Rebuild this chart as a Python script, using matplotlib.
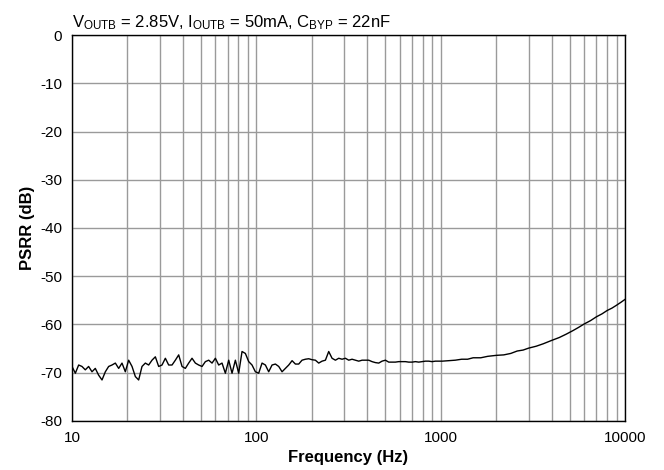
import numpy as np
import matplotlib
matplotlib.use("Agg")
import matplotlib.pyplot as plt
from matplotlib.ticker import FixedLocator, FixedFormatter, LogLocator, NullFormatter

plt.rcParams['font.family'] = ['Liberation Sans', 'DejaVu Sans']

# measured sweep, 10 Hz .. ~1 kHz (noisy region)
freq_lo = [10.0, 10.43, 10.87, 11.33, 11.81, 12.31, 12.84, 13.38, 13.95, 14.55,
           15.17, 15.81, 16.48, 17.19, 17.92, 18.68, 19.47, 20.30, 21.17, 22.07,
           23.00, 23.98, 25.00, 26.06, 27.17, 28.33, 29.53, 30.79, 32.10, 33.46,
           34.89, 36.37, 37.92, 39.54, 41.21, 42.96, 44.79, 46.70, 48.68, 50.76,
           52.91, 55.16, 57.51, 59.96, 62.50, 65.16, 67.93, 70.82, 73.83, 76.97,
           80.24, 83.65, 87.21, 90.92, 94.78, 98.81, 103.0, 107.4, 112.0, 116.7,
           121.7, 126.9, 132.3, 137.9, 143.8, 149.9, 156.3, 162.9, 169.8, 177.0,
           184.6, 192.4, 200.6, 209.1, 218.0, 227.3, 237.0, 247.0, 257.5, 268.5,
           279.9, 291.8, 304.2, 317.1, 330.6, 344.7, 359.3, 374.6, 390.5, 407.1,
           424.4, 442.5, 461.3, 480.9, 501.4, 522.7, 544.9, 568.1, 592.2, 617.4,
           643.7, 671.0, 699.6, 729.3, 760.3, 792.7, 826.4, 861.5, 898.2, 936.3,
           976.1]
psrr_lo = [-68.7, -70.1, -68.4, -68.7, -69.4, -68.7, -69.8, -69.1, -70.5, -71.5,
           -69.8, -68.7, -68.4, -68.0, -69.1, -68.0, -69.8, -67.4, -68.7, -70.8,
           -71.5, -68.7, -68.0, -68.4, -67.4, -66.7, -68.7, -68.4, -67.0, -68.4,
           -68.4, -67.4, -66.3, -68.7, -69.1, -68.0, -67.0, -68.0, -68.4, -68.7,
           -67.7, -67.4, -68.0, -67.0, -68.4, -68.0, -70.1, -67.4, -70.1, -67.4,
           -70.1, -65.6, -66.0, -67.7, -68.4, -69.8, -70.1, -68.0, -68.4, -69.8,
           -68.4, -68.2, -68.7, -69.8, -69.1, -68.4, -67.5, -68.2, -68.2, -67.4,
           -67.2, -67.1, -67.3, -67.4, -68.0, -67.6, -67.4, -65.6, -67.0, -67.4,
           -67.0, -67.2, -67.0, -67.4, -67.2, -67.4, -67.6, -67.4, -67.4, -67.4,
           -67.7, -67.9, -68.0, -67.6, -67.4, -67.8, -67.8, -67.8, -67.7, -67.7,
           -67.7, -67.8, -67.8, -67.7, -67.8, -67.7, -67.6, -67.6, -67.7, -67.6,
           -67.6]

# 1 kHz .. 10 kHz (smooth rise)
freq_hi = [1020, 1100, 1200, 1300, 1400, 1500, 1650, 1800, 2000, 2200,
           2400, 2600, 2800, 3000, 3300, 3600, 4000, 4400, 4800, 5200,
           5600, 6000, 6500, 7000, 7500, 8000, 8500, 9000, 9500, 10000]
psrr_hi = [-67.6, -67.5, -67.4, -67.2, -67.2, -66.9, -66.9, -66.6, -66.4, -66.3,
           -66.0, -65.5, -65.3, -64.9, -64.5, -64.0, -63.3, -62.7, -62.0, -61.3,
           -60.6, -59.9, -59.2, -58.4, -57.8, -57.1, -56.6, -56.0, -55.4, -54.8]

freq = freq_lo + freq_hi
psrr = psrr_lo + psrr_hi

xticks = [10, 100, 1000, 10000]
xticklabels = ['10', '100', '1000', '10000']
yticks = [0, -10, -20, -30, -40, -50, -60, -70, -80]

fig = plt.figure(figsize=(6.64, 4.70), dpi=100)
ax = fig.add_axes([0.1084, 0.1043, 0.8329, 0.8212])

ax.plot(freq, psrr, color='black', lw=1.0, zorder=3)

ax.set_xscale('log')
ax.set_xlim(10, 10000)
ax.set_ylim(-80, 0)
ax.xaxis.set_major_locator(FixedLocator(xticks))
ax.xaxis.set_major_formatter(FixedFormatter(xticklabels))
ax.xaxis.set_minor_locator(LogLocator(base=10, subs=np.arange(2, 10)))
ax.xaxis.set_minor_formatter(NullFormatter())
ax.set_yticks(yticks)
ax.set_yticklabels([str(v) for v in yticks])

ax.grid(True, which='both', axis='x', color='#9a9a9a', lw=1.0)
ax.grid(True, which='major', axis='y', color='#9a9a9a', lw=1.0)
ax.tick_params(which='both', length=0, labelsize=11, pad=7)
for s in ax.spines.values():
    s.set_linewidth(1.0)
    s.set_color('black')

ax.set_xlabel('Frequency (Hz)', fontsize=12, fontweight='bold', labelpad=4)
ax.set_ylabel('PSRR (dB)', fontsize=12, fontweight='bold', labelpad=4)

ax.text(0.0, 1.021,
        r'$\mathregular{V_{OUTB}}$ = 2.85V, $\mathregular{I_{OUTB}}$ = 50mA, '
        r'$\mathregular{C_{BYP}}$ = 22nF',
        transform=ax.transAxes, fontsize=12, ha='left', va='baseline')

fig.savefig('out.png', dpi=100)
